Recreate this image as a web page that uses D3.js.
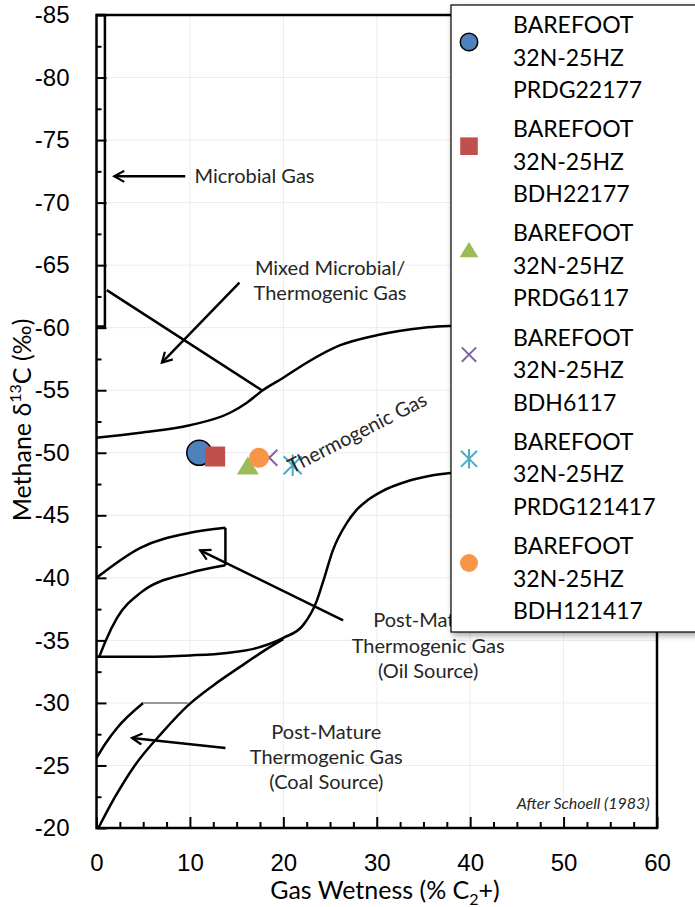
<!DOCTYPE html>
<html>
<head>
<meta charset="utf-8">
<script src="https://cdn.jsdelivr.net/npm/d3@7"></script>
<style>
  body { margin: 0; background: #fff; }
  svg { display: block; font-family: Lato, 'Open Sans', sans-serif; }
</style>
</head>
<body>
<div id="chart"></div>
<script>
// sample points (gas wetness %, methane d13C)
const seriesNames = ['BAREFOOT 32N-25HZ PRDG22177', 'BAREFOOT 32N-25HZ BDH22177', 'BAREFOOT 32N-25HZ PRDG6117',
  'BAREFOOT 32N-25HZ BDH6117', 'BAREFOOT 32N-25HZ PRDG121417', 'BAREFOOT 32N-25HZ BDH121417'];
const seriesX = [11.0, 12.7, 16.2, 18.5, 21.0, 17.4];
const seriesY = [-50.0, -49.7, -48.9, -49.6, -49.0, -49.6];
const seriesColors = ['#4F81BD', '#C0504D', '#9BBB59', '#8064A2', '#4BACC6', '#F79646'];
const seriesShapes = ['bigcircle', 'square', 'triangle', 'x', 'star', 'circle'];

const xTicks = [0, 10, 20, 30, 40, 50, 60];
const yTicks = [-85, -80, -75, -70, -65, -60, -55, -50, -45, -40, -35, -30, -25, -20];

// Schoell (1983) field outlines
const microbialBox = [[0, -85], [0.9, -85], [0.9, -60.1], [0, -60.1]];
const mixedLine = [[1.1, -63.0], [17.7, -55.0]];
const thermoUpper = [[0, -51.2], [4.7, -51.6], [10, -52.2], [14.3, -53.2], [16.1, -54.0], [17.8, -55.0], [20, -56.0],
  [22.5, -57.2], [26.1, -58.6], [30, -59.4], [35, -60.0], [40, -60.2]];
const oilCapTop = [[0, -40.0], [4.7, -42.4], [10, -43.6], [13.8, -44.0]];
const oilCapSide = [[13.8, -44.0], [13.8, -41.0]];
const oilCapBottom = [[0.3, -33.7], [1.0, -35.0], [2.2, -36.8], [4.7, -38.8], [10, -40.4], [13.8, -41.0]];
const thermoLower = [[0, -33.7], [5, -33.7], [10, -33.8], [14, -34.0], [17.2, -34.4], [20, -35.2], [22.1, -36.2],
  [23.6, -38.2], [24.3, -39.8], [25.3, -42.2], [26.8, -44.4], [27.8, -45.4], [29.0, -46.2], [30.5, -46.9],
  [33.2, -47.7], [36, -48.2], [40, -48.5]];
const coalLower = [[0.2, -20], [2, -22.5], [4.1, -25], [7, -27.6], [9.8, -29.8], [12.5, -31.4], [15.4, -32.9],
  [18, -34.2], [20, -35.1]];
const coalUpper = [[0, -25.6], [1, -26.8], [2.2, -28.0], [5, -30.0]];
const coalCap = [[5, -30.0], [9.8, -30.0]];

const arrows = [
  { from: [9.5, -72.1], to: [1.9, -72.1] },
  { from: [15.3, -63.6], to: [7.0, -57.2] },
  { from: [26.4, -36.6], to: [11.1, -42.2] },
  { from: [13.8, -26.4], to: [3.8, -27.2] }
];
const notes = [
  { x: 10.5, y: -72.1, lines: ['Microbial Gas'], anchor: 'start' },
  { x: 25.0, y: -64.8, lines: ['Mixed Microbial/', 'Thermogenic Gas'], anchor: 'middle' },
  { x: 35.5, y: -36.6, lines: ['Post-Mature', 'Thermogenic Gas', '(Oil Source)'], anchor: 'middle' },
  { x: 24.6, y: -27.7, lines: ['Post-Mature', 'Thermogenic Gas', '(Coal Source)'], anchor: 'middle' }
];

const W = 695, H = 907;
const margin = { top: 15, right: 38, bottom: 79, left: 96.5 };

const svg = d3.select('#chart').append('svg').attr('width', W).attr('height', H);

const x = d3.scaleLinear().domain([0, 60]).range([margin.left, W - margin.right]);
const y = d3.scaleLinear().domain([-85, -20]).range([margin.top, H - margin.bottom]);

const defs = svg.append('defs');
defs.append('marker')
  .attr('id', 'head')
  .attr('viewBox', '0 0 13 13')
  .attr('refX', 11).attr('refY', 6.5)
  .attr('markerWidth', 13).attr('markerHeight', 13)
  .attr('markerUnits', 'userSpaceOnUse')
  .attr('orient', 'auto')
  .append('path')
  .attr('d', 'M1,1 L11,6.5 L1,12')
  .attr('fill', 'none').attr('stroke', '#000').attr('stroke-width', 2.2);
const shadow = defs.append('filter').attr('id', 'shadow').attr('x', '-10%').attr('y', '-10%').attr('width', '130%').attr('height', '130%');
shadow.append('feDropShadow').attr('dx', 2).attr('dy', 3).attr('stdDeviation', 3).attr('flood-color', '#000').attr('flood-opacity', 0.35);

// gridlines
svg.append('g').selectAll('line').data(xTicks.slice(1, -1)).join('line')
  .attr('x1', d => x(d)).attr('x2', d => x(d)).attr('y1', y(-85)).attr('y2', y(-20))
  .attr('stroke', '#ececec').attr('stroke-width', 1);
svg.append('g').selectAll('line').data(yTicks.slice(1, -1)).join('line')
  .attr('x1', x(0)).attr('x2', x(60)).attr('y1', d => y(d)).attr('y2', d => y(d))
  .attr('stroke', '#ececec').attr('stroke-width', 1);

// axes, ticks point into the plot
const minorX = d3.range(0, 60.1, 2.5).filter(d => d % 10 !== 0);
const minorY = d3.range(-85, -19.9, 2.5).filter(d => d % 5 !== 0);

const xAxis = svg.append('g').attr('transform', `translate(0,${y(-20)})`)
  .call(d3.axisBottom(x).tickValues(xTicks).tickSize(-11).tickPadding(26).tickFormat(d => String(d)));
svg.append('g').attr('transform', `translate(0,${y(-20)})`)
  .call(d3.axisBottom(x).tickValues(minorX).tickSize(-6).tickFormat(''));
const yAxis = svg.append('g').attr('transform', `translate(${x(0)},0)`)
  .call(d3.axisLeft(y).tickValues(yTicks).tickSize(-10).tickPadding(27).tickFormat(d => String(d)));
svg.append('g').attr('transform', `translate(${x(0)},0)`)
  .call(d3.axisLeft(y).tickValues(minorY).tickSize(-5).tickFormat(''));

svg.selectAll('.domain').remove();
svg.selectAll('.tick line').attr('stroke', '#000').attr('stroke-width', 2);
xAxis.selectAll('text').style('font-size', '24px').attr('fill', '#000');
yAxis.selectAll('text').style('font-size', '24px').attr('fill', '#000');

// frame
svg.append('rect')
  .attr('x', x(0)).attr('y', y(-85))
  .attr('width', x(60) - x(0)).attr('height', y(-20) - y(-85))
  .attr('fill', 'none').attr('stroke', '#000').attr('stroke-width', 2.5);

// field outlines
const straight = d3.line().x(d => x(d[0])).y(d => y(d[1]));
const smoothX = d3.line().x(d => x(d[0])).y(d => y(d[1])).curve(d3.curveMonotoneX);
const outlines = svg.append('g').attr('fill', 'none').attr('stroke', '#000').attr('stroke-width', 2.5)
  .attr('stroke-linejoin', 'round');
outlines.append('path').attr('d', straight(microbialBox));
outlines.append('path').attr('d', straight(mixedLine));
outlines.append('path').attr('d', smoothX(thermoUpper));
outlines.append('path').attr('d', smoothX(oilCapTop));
outlines.append('path').attr('d', straight(oilCapSide));
outlines.append('path').attr('d', smoothX(oilCapBottom));
outlines.append('path').attr('d', smoothX(thermoLower));
outlines.append('path').attr('d', smoothX(coalLower));
outlines.append('path').attr('d', smoothX(coalUpper));
svg.append('path').attr('d', straight(coalCap))
  .attr('fill', 'none').attr('stroke', '#999').attr('stroke-width', 2);

// annotation arrows
svg.append('g').selectAll('line').data(arrows).join('line')
  .attr('x1', d => x(d.from[0])).attr('y1', d => y(d.from[1]))
  .attr('x2', d => x(d.to[0])).attr('y2', d => y(d.to[1]))
  .attr('stroke', '#000').attr('stroke-width', 2.5)
  .attr('marker-end', 'url(#head)');

// annotation text
const noteG = svg.append('g').style('font-size', '20px').attr('fill', '#262626');
notes.forEach(n => {
  const t = noteG.append('text')
    .attr('x', x(n.x)).attr('y', y(n.y))
    .attr('text-anchor', n.anchor);
  n.lines.forEach((line, i) => {
    t.append('tspan').attr('x', x(n.x)).attr('dy', i === 0 ? '0.35em' : '1.27em').text(line);
  });
});

// sample markers
const markers = svg.append('g');
function drawMarker(g, shape, color, cx, cy, s) {
  if (shape === 'bigcircle') {
    g.append('circle').attr('cx', cx).attr('cy', cy).attr('r', 12.5 * s)
      .attr('fill', color).attr('stroke', '#000').attr('stroke-width', 1.5);
  } else if (shape === 'circle') {
    g.append('circle').attr('cx', cx).attr('cy', cy).attr('r', 10 * s).attr('fill', color);
  } else if (shape === 'square') {
    g.append('rect').attr('x', cx - 10 * s).attr('y', cy - 10 * s)
      .attr('width', 20 * s).attr('height', 20 * s).attr('fill', color);
  } else if (shape === 'triangle') {
    const h = 10 * s;
    g.append('path').attr('d', `M${cx},${cy - h} L${cx + h * 1.1},${cy + h * 0.8} L${cx - h * 1.1},${cy + h * 0.8}Z`)
      .attr('fill', color);
  } else if (shape === 'x') {
    const h = 8 * s;
    g.append('path').attr('d', `M${cx - h},${cy - h}L${cx + h},${cy + h}M${cx - h},${cy + h}L${cx + h},${cy - h}`)
      .attr('stroke', color).attr('stroke-width', 2).attr('fill', 'none');
  } else if (shape === 'star') {
    const h = 9 * s;
    g.append('path').attr('d', `M${cx - h},${cy - h}L${cx + h},${cy + h}M${cx - h},${cy + h}L${cx + h},${cy - h}M${cx},${cy - h * 1.2}L${cx},${cy + h * 1.2}`)
      .attr('stroke', color).attr('stroke-width', 2).attr('fill', 'none');
  }
}
seriesX.forEach((d, i) => drawMarker(markers, seriesShapes[i], seriesColors[i], x(d), y(seriesY[i]), 1));

// rotated zone label
svg.append('text')
  .attr('transform', `translate(${x(27.9)},${y(-51.6)}) rotate(-27)`)
  .attr('text-anchor', 'middle').attr('dy', '0.35em')
  .style('font-size', '20px').attr('fill', '#262626')
  .text('Thermogenic Gas');

svg.append('text')
  .attr('x', x(59.2)).attr('y', y(-21.5))
  .attr('text-anchor', 'end')
  .style('font-size', '16px').style('font-style', 'italic').attr('fill', '#262626')
  .text('After Schoell (1983)');

// axis titles
const xTitle = svg.append('text')
  .attr('x', 385).attr('y', 890).attr('dy', '0.35em')
  .attr('text-anchor', 'middle').style('font-size', '25px').attr('fill', '#000');
xTitle.append('tspan').text('Gas Wetness (% C');
xTitle.append('tspan').attr('dy', 6).style('font-size', '16px').text('2');
xTitle.append('tspan').attr('dy', -6).text('+)');

const yTitle = svg.append('text')
  .attr('transform', `translate(22,420) rotate(-90)`).attr('dy', '0.35em')
  .attr('text-anchor', 'middle').style('font-size', '25px').attr('fill', '#000');
yTitle.append('tspan').text('Methane  δ');
yTitle.append('tspan').attr('dy', -10).style('font-size', '16px').text('13');
yTitle.append('tspan').attr('dy', 10).text('C (‰)');

// legend
const legendScale = { bigcircle: 0.7, square: 0.88, triangle: 0.85, x: 0.9, star: 0.9, circle: 0.9 };
const legend = svg.append('g');
legend.append('rect')
  .attr('x', 451).attr('y', 5).attr('width', 270).attr('height', 627)
  .attr('fill', '#fff').attr('stroke', '#000').attr('stroke-width', 1.2)
  .attr('filter', 'url(#shadow)');
seriesNames.forEach((name, i) => {
  const cy = 42 + i * 104.2;
  drawMarker(legend, seriesShapes[i], seriesColors[i], 469, cy, legendScale[seriesShapes[i]]);
  const t = legend.append('text').attr('x', 513).attr('y', cy - 17)
    .style('font-size', '23px').attr('fill', '#000');
  name.split(' ').forEach((p, j) => {
    t.append('tspan').attr('x', 513).attr('dy', j === 0 ? '0.35em' : 32.5).text(p);
  });
});
</script>
</body>
</html>
